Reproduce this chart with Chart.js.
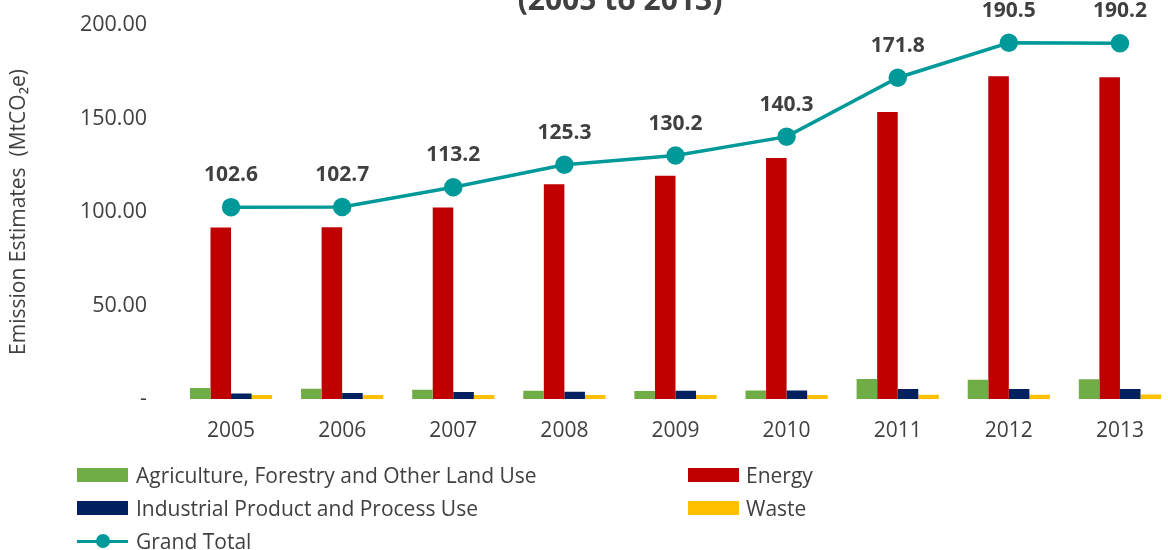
<!DOCTYPE html>
<html>
<head>
<meta charset="utf-8">
<script src="https://cdn.jsdelivr.net/npm/chart.js@4.4.0/dist/chart.umd.min.js"></script>
<style>
  body { margin: 0; overflow: hidden; background: #fff; font-family: "Open Sans", sans-serif; }
  #wrap { position: absolute; left: 0; top: 0; width: 1240px; height: 550px; }
  .lg { position: absolute; display: flex; align-items: center; height: 28px; line-height: 28px; font-size: 21px; color: #404040; white-space: nowrap; }
  .sw { display: inline-block; height: 14px; }
  .ln { position: relative; display: inline-block; height: 3px; }
  .ln i { position: absolute; top: -5.5px; width: 14px; height: 14px; border-radius: 50%; }
</style>
</head>
<body>
<div id="wrap"><canvas id="emissionsChart"></canvas></div>
<div id="legend"></div>
<script>
// values (MtCO2e)
const years = ['2005', '2006', '2007', '2008', '2009', '2010', '2011', '2012', '2013'];
const afolu = [5.9, 5.5, 5.0, 4.4, 4.3, 4.6, 10.7, 10.3, 10.5];
const energy = [91.7, 91.9, 102.4, 114.9, 119.4, 128.9, 153.5, 172.6, 172.0];
const ippu = [2.9, 3.2, 3.7, 3.9, 4.4, 4.6, 5.3, 5.3, 5.3];
const waste = [2.1, 2.1, 2.1, 2.1, 2.1, 2.2, 2.3, 2.3, 2.4];
const grandTotal = [102.6, 102.7, 113.2, 125.3, 130.2, 140.3, 171.8, 190.5, 190.2];
const yTicks = [0, 50, 100, 150, 200];

const textColor = '#404040';
const teal = '#009999';

// total labels above the line points
const totalLabels = {
  id: 'totalLabels',
  afterDatasetsDraw(chart) {
    const meta = chart.getDatasetMeta(4);
    const ctx = chart.ctx;
    ctx.save();
    ctx.font = 'bold 21px "Open Sans"';
    ctx.fillStyle = textColor;
    ctx.textAlign = 'center';
    ctx.textBaseline = 'middle';
    meta.data.forEach((pt, i) => {
      ctx.fillText(grandTotal[i].toFixed(1), pt.x, pt.y - 32);
    });
    ctx.restore();
  }
};

// the bottom line of the title, cut off by the picture's top edge
const cutTitle = {
  id: 'cutTitle',
  afterDraw(chart) {
    const ctx = chart.ctx;
    ctx.save();
    ctx.font = 'bold 30px "Open Sans"';
    ctx.fillStyle = textColor;
    ctx.textAlign = 'center';
    ctx.textBaseline = 'alphabetic';
    ctx.fillText('(2005 to 2013)', 620, 10);
    ctx.restore();
  }
};

const barSet = (label, data, color) => ({
  type: 'bar',
  label: label,
  data: data,
  backgroundColor: color,
  borderWidth: 0,
  order: 1,
  categoryPercentage: 0.74,
  barPercentage: 1.0
});

const datasets = [
  barSet('Agriculture, Forestry and Other Land Use', afolu, '#70AD47'),
  barSet('Energy', energy, '#C00000'),
  barSet('Industrial Product and Process Use', ippu, '#002060'),
  barSet('Waste', waste, '#FFC000'),
  {
    type: 'line',
    label: 'Grand Total',
    data: grandTotal,
    borderColor: teal,
    backgroundColor: teal,
    borderWidth: 3.5,
    pointRadius: 7.5,
    pointHoverRadius: 7.5,
    pointBackgroundColor: teal,
    pointBorderColor: teal,
    tension: 0,
    order: 0
  }
];

new Chart(document.getElementById('emissionsChart'), {
  data: { labels: years, datasets: datasets },
  options: {
    responsive: true,
    maintainAspectRatio: false,
    animation: false,
    layout: { padding: { top: 25, right: 64.5, left: 0, bottom: 0 } },
    plugins: {
      legend: { display: false },
      tooltip: { enabled: false },
      title: { display: false }
    },
    scales: {
      x: {
        grid: { display: false, drawTicks: false },
        border: { display: false },
        ticks: { color: textColor, font: { family: 'Open Sans', size: 21 }, padding: 19 },
        afterFit(scale) { scale.height = 151; }
      },
      y: {
        min: 0,
        max: 200,
        afterBuildTicks(scale) { scale.ticks = yTicks.map(v => ({ value: v })); },
        grid: { display: false, drawTicks: false },
        border: { display: false },
        ticks: {
          color: textColor,
          font: { family: 'Open Sans', size: 21.5 },
          padding: 28.5,
          callback: v => (v === 0 ? '-' : v.toFixed(2))
        },
        title: {
          display: true,
          text: 'Emission Estimates  (MtCO\u2082e)',
          color: textColor,
          font: { family: 'Open Sans', size: 21 },
          padding: { top: 6, bottom: 0 }
        },
        afterFit(scale) {
          scale.width = 175.5;
          scale.paddingTop = 0;
          scale.paddingBottom = 0;
        }
      }
    }
  },
  plugins: [totalLabels, cutTitle]
});

// two-column legend under the chart
const legendSlots = [
  { left: 77, mid: 475, w: 51, gap: 8 },
  { left: 688, mid: 475, w: 51, gap: 7 },
  { left: 77, mid: 508, w: 51, gap: 8 },
  { left: 688, mid: 508, w: 51, gap: 7 },
  { left: 77, mid: 541, w: 51, gap: 8 }
];
const legendBox = document.getElementById('legend');
datasets.forEach((ds, i) => {
  const slot = legendSlots[i];
  const item = document.createElement('div');
  item.className = 'lg';
  item.style.left = slot.left + 'px';
  item.style.top = (slot.mid - 14) + 'px';
  const mark = document.createElement('span');
  mark.style.width = slot.w + 'px';
  mark.style.marginRight = slot.gap + 'px';
  mark.style.background = ds.type === 'bar' ? ds.backgroundColor : ds.borderColor;
  if (ds.type === 'bar') {
    mark.className = 'sw';
  } else {
    mark.className = 'ln';
    mark.innerHTML = '<i style="left:' + (slot.w / 2 - 7) + 'px;background:' + ds.borderColor + '"></i>';
  }
  item.appendChild(mark);
  const txt = document.createElement('span');
  txt.textContent = ds.label;
  item.appendChild(txt);
  legendBox.appendChild(item);
});
</script>
</body>
</html>
